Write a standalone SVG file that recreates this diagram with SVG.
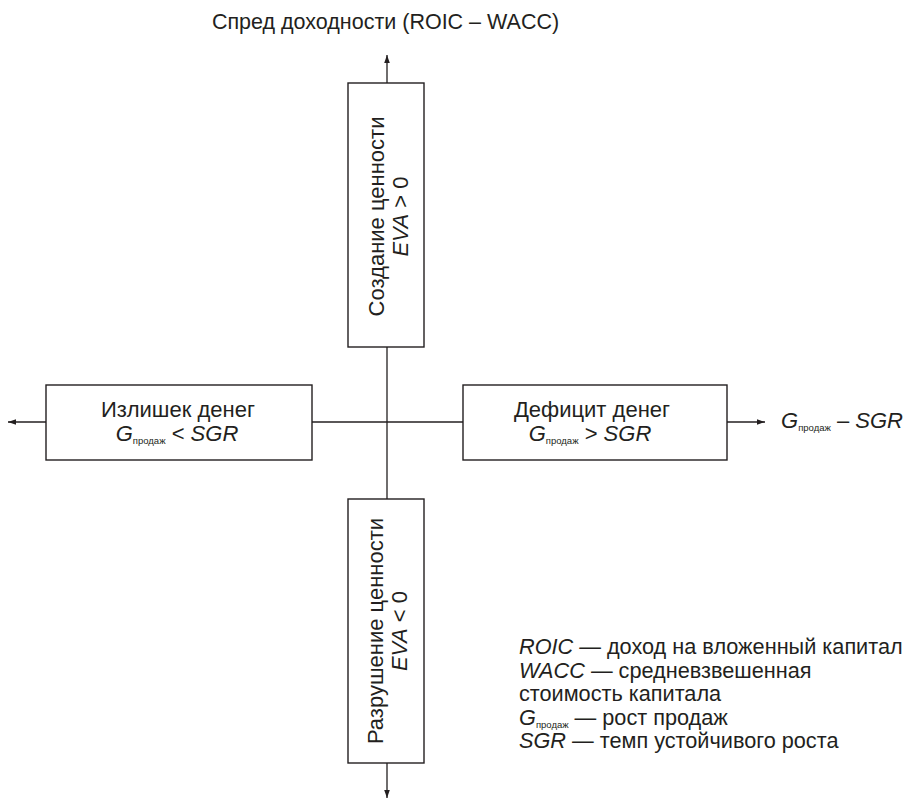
<svg xmlns="http://www.w3.org/2000/svg" width="906" height="799" viewBox="0 0 906 799">
<style>
text{font-family:"Liberation Sans",Arial,sans-serif;fill:#231f20;font-size:22px}
.it{font-style:italic}
.sub{font-size:9.5px}
.lg{font-size:21.7px}
.box{fill:#fff;stroke:#231f20;stroke-width:1.4}
.ln{stroke:#231f20;stroke-width:1.3;fill:none}
</style>
<defs>
<marker id="ah" viewBox="0 0 10 10" refX="10" refY="5" markerWidth="8" markerHeight="8" markerUnits="userSpaceOnUse" orient="auto">
<path d="M0,1.5 L10,5 L0,8.5 Z" fill="#231f20"/>
</marker>
</defs>
<g id="connectors">
<line class="ln" x1="387" y1="83" x2="387" y2="55" marker-end="url(#ah)"/>
<line class="ln" x1="387" y1="347" x2="387" y2="499"/>
<line class="ln" x1="387" y1="763" x2="387" y2="798" marker-end="url(#ah)"/>
<line class="ln" x1="46" y1="422" x2="8" y2="422" marker-end="url(#ah)"/>
<line class="ln" x1="312" y1="422" x2="463" y2="422"/>
<line class="ln" x1="727" y1="422" x2="765" y2="422" marker-end="url(#ah)"/>
</g>
<g id="title">
<text x="385.5" y="28.5" text-anchor="middle" style="font-size:21.5px">Спред доходности (ROIC – WACC)</text>
</g>
<g id="xlabel">
<text x="781" y="428"><tspan class="it">G</tspan><tspan class="sub" dy="3">продаж</tspan><tspan dy="-3"> – </tspan><tspan class="it">SGR</tspan></text>
</g>
<g id="top">
<rect class="box" x="348" y="83" width="76" height="264"/>
<text transform="translate(384,216.5) rotate(-90)" text-anchor="middle">Создание ценности</text>
<text transform="translate(407.5,216.5) rotate(-90)" text-anchor="middle"><tspan class="it">EVA</tspan> &gt; 0</text>
</g>
<g id="left">
<rect class="box" x="46" y="385" width="266" height="75"/>
<text x="178" y="417" text-anchor="middle">Излишек денег</text>
<text x="177" y="440.5" text-anchor="middle"><tspan class="it">G</tspan><tspan class="sub" dy="3">продаж</tspan><tspan dy="-3"> &lt; </tspan><tspan class="it">SGR</tspan></text>
</g>
<g id="right">
<rect class="box" x="463" y="385" width="264" height="75"/>
<text x="592" y="417" text-anchor="middle">Дефицит денег</text>
<text x="590" y="440.5" text-anchor="middle"><tspan class="it">G</tspan><tspan class="sub" dy="3">продаж</tspan><tspan dy="-3"> &gt; </tspan><tspan class="it">SGR</tspan></text>
</g>
<g id="bottom">
<rect class="box" x="348" y="499" width="76" height="264"/>
<text transform="translate(383,631) rotate(-90)" text-anchor="middle">Разрушение ценности</text>
<text transform="translate(407,631) rotate(-90)" text-anchor="middle"><tspan class="it">EVA</tspan> &lt; 0</text>
</g>
<g id="legend">
<text class="lg" x="519" y="654"><tspan class="it">ROIC</tspan> — доход на вложенный капитал</text>
<text class="lg" x="519" y="677.6"><tspan class="it">WACC</tspan> — средневзвешенная</text>
<text class="lg" x="519" y="701.2">стоимость капитала</text>
<text class="lg" x="519" y="724.8"><tspan class="it">G</tspan><tspan class="sub" dy="3">продаж</tspan><tspan dy="-3"> — рост продаж</tspan></text>
<text class="lg" x="519" y="748.4"><tspan class="it">SGR</tspan> — темп устойчивого роста</text>
</g>
</svg>
